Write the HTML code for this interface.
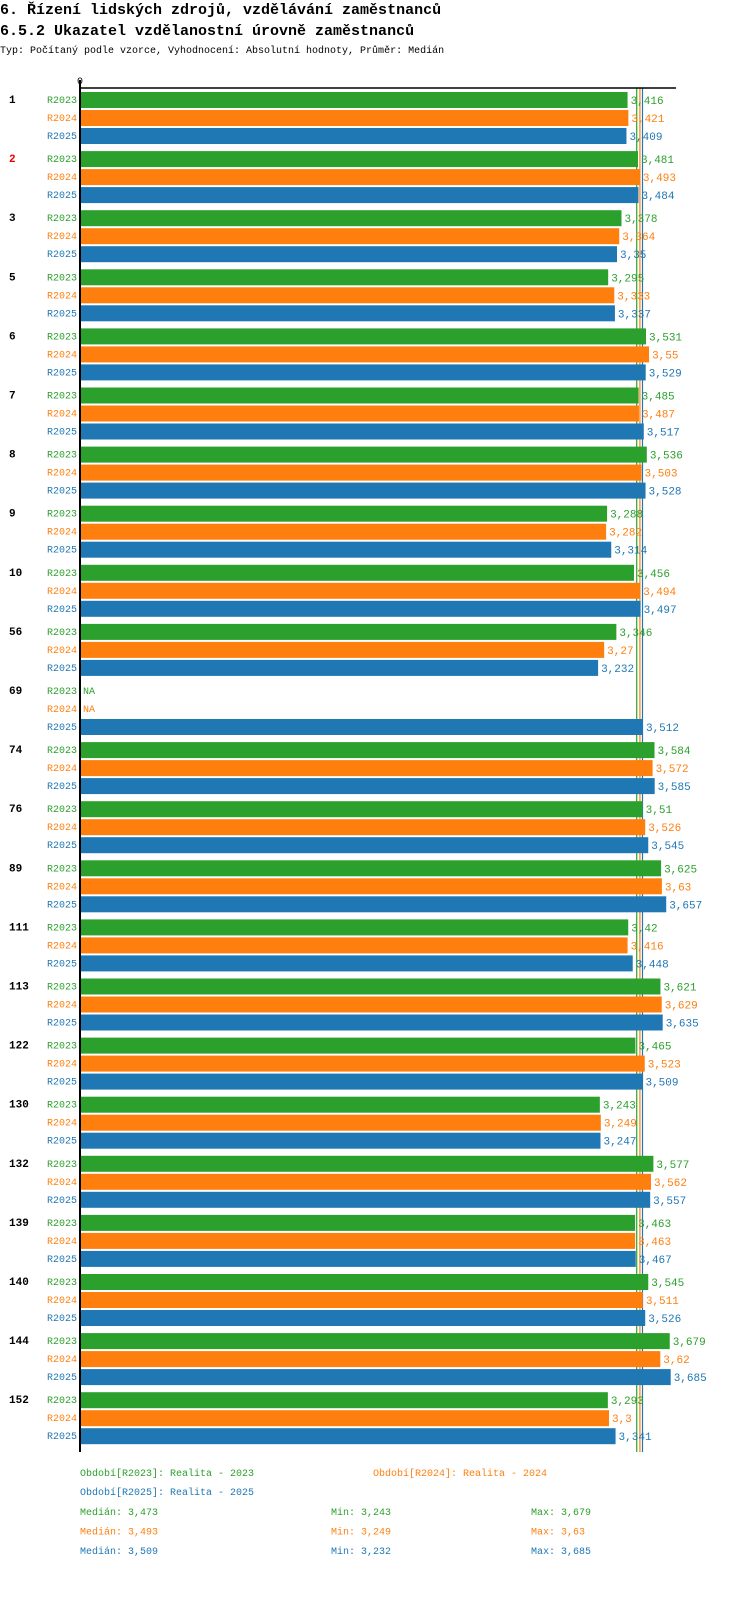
<!DOCTYPE html>
<html><head><meta charset="utf-8"><style>
body{margin:0;background:#fff;width:750px;height:1592px;overflow:hidden;font-family:"Liberation Mono",monospace;}
svg text{font-family:"Liberation Mono",monospace;}
</style></head><body>
<svg id="c" width="750" height="1592">
<text x="0" y="14" font-size="15" font-weight="bold">6. Řízení lidských zdrojů, vzdělávání zaměstnanců</text>
<text x="0" y="35" font-size="15" font-weight="bold">6.5.2 Ukazatel vzdělanostní úrovně zaměstnanců</text>
<text x="0" y="53" font-size="10">Typ: Počítaný podle vzorce, Vyhodnocení: Absolutní hodnoty, Průměr: Medián</text>
<text x="77" y="84" font-size="10">0</text>
</svg>
<script>
const groups=["1","2","3","5","6","7","8","9","10","56","69","74","76","89","111","113","122","130","132","139","140","144","152"];
const series=["R2023","R2024","R2025"];
const r2023=[3.416,3.481,3.378,3.295,3.531,3.485,3.536,3.288,3.456,3.346,null,3.584,3.51,3.625,3.42,3.621,3.465,3.243,3.577,3.463,3.545,3.679,3.293];
const r2024=[3.421,3.493,3.364,3.333,3.55,3.487,3.503,3.282,3.494,3.27,null,3.572,3.526,3.63,3.416,3.629,3.523,3.249,3.562,3.463,3.511,3.62,3.3];
const r2025=[3.409,3.484,3.35,3.337,3.529,3.517,3.528,3.314,3.497,3.232,3.512,3.585,3.545,3.657,3.448,3.635,3.509,3.247,3.557,3.467,3.526,3.685,3.341];
const medians=[3.473,3.493,3.509];
const mins=[3.243,3.249,3.232];
const maxs=[3.679,3.63,3.685];
const colors=["#2ca02c","#ff7f0e","#1f77b4"];
const svg=document.getElementById('c');
const NS="http://www.w3.org/2000/svg";
const x=v=>80+v*160.3;
const yb=(g,s)=>92+g*59.1+s*18;
function mk(t,a,txt){const e=document.createElementNS(NS,t);for(const k in a)e.setAttribute(k,a[k]);if(txt!==undefined)e.textContent=txt;svg.appendChild(e);return e;}
const fmt=v=>String(v).replace('.',',');
const data=[r2023,r2024,r2025];
medians.forEach((m,i)=>{
 const l=mk('line',{x1:x(m),x2:x(m),y1:88,y2:1452,stroke:colors[i],'stroke-width':1.2});
 
 
});
groups.forEach((g,gi)=>{
 const gl=mk('text',{x:9,y:yb(gi,0)+11,'font-size':11,'font-weight':'bold',fill:gi==1?'#e00':'#000'},g);
 
 
 series.forEach((s,si)=>{
  const y=yb(gi,si);const v=data[si][gi];
  const sl=mk('text',{x:77,y:y+11,'font-size':10,'text-anchor':'end',fill:colors[si]},s);
  
  
  if(v===null){
   const na=mk('text',{x:83,y:y+11,'font-size':10,fill:colors[si]},'NA');
   
   
   return;
  }
  const b=mk('rect',{x:80,y:y,width:x(v)-80,height:16,fill:colors[si]});
  
  
  const vl=mk('text',{x:x(v)+3,y:y+12,'font-size':11,fill:colors[si]},fmt(v));
  
  
 });
});
const ax=mk('line',{x1:80,x2:676,y1:88,y2:88,stroke:'#000','stroke-width':1.5});


const ay=mk('line',{x1:80,x2:80,y1:80,y2:1452,stroke:'#000','stroke-width':2});


const legs=[[80,1476,"Období[R2023]: Realita - 2023",0],[373,1476,"Období[R2024]: Realita - 2024",1],[80,1495,"Období[R2025]: Realita - 2025",2]];
legs.forEach(l=>{
 const t=mk('text',{x:l[0],y:l[1],'font-size':10,fill:colors[l[3]]},l[2]);
 
 
});
[0,1,2].forEach(i=>{
 const y=1515+i*19.6;
 const a=mk('text',{x:80,y:y,'font-size':10,fill:colors[i]},'Medián: '+fmt(medians[i]));
 
 
 const b=mk('text',{x:331,y:y,'font-size':10,fill:colors[i]},'Min: '+fmt(mins[i]));
 
 
 const c=mk('text',{x:531,y:y,'font-size':10,fill:colors[i]},'Max: '+fmt(maxs[i]));
 
 
});
</script>
</body></html>
